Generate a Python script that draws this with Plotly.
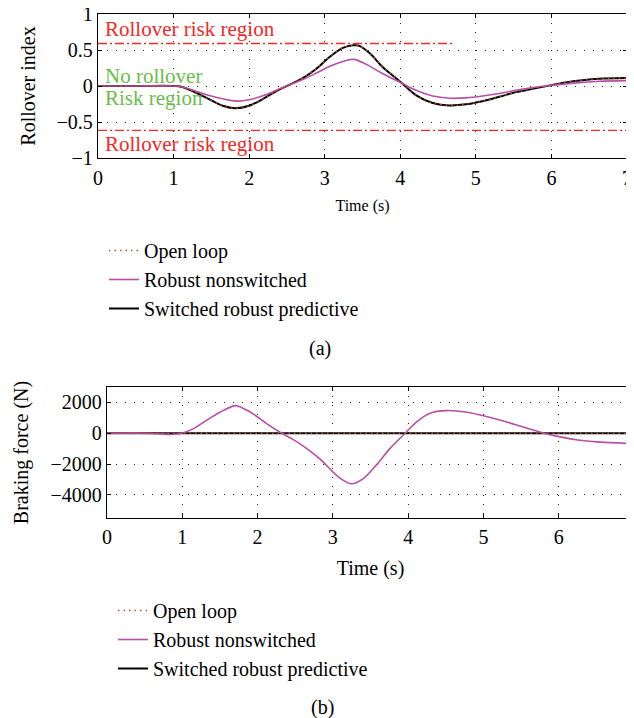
import plotly.graph_objects as go

# The page body has an 8px margin, so the figure is drawn at (8, 8) in the window.
OFF = 8
W, H = 634 - OFF, 718 - OFF
FONT = "Liberation Serif, Times New Roman, serif"

# ---------- (a) Rollover index ----------
t_a = [0, 0.5, 1.0, 1.1, 1.25, 1.5, 1.65, 1.82, 2.0, 2.2, 2.36, 2.54, 2.71, 2.89,
       3.06, 3.24, 3.38, 3.45, 3.6, 3.77, 4.0, 4.21, 4.43, 4.65, 4.87, 5.09, 5.31,
       5.53, 5.75, 5.97, 6.19, 6.41, 6.63, 7.0]
switched_a = [0, 0, 0, -0.01, -0.07, -0.2, -0.275, -0.31, -0.275, -0.17, -0.07, 0.02,
              0.11, 0.24, 0.40, 0.53, 0.565, 0.56, 0.45, 0.26, 0.06, -0.13, -0.235,
              -0.27, -0.255, -0.21, -0.15, -0.085, -0.04, 0.005, 0.05, 0.08, 0.1, 0.11]
openloop_a = [0, 0, 0, -0.01, -0.07, -0.2, -0.275, -0.31, -0.275, -0.17, -0.07, 0.02,
              0.11, 0.24, 0.40, 0.53, 0.565, 0.56, 0.45, 0.26, 0.06, -0.13, -0.235,
              -0.27, -0.255, -0.21, -0.15, -0.085, -0.04, 0.005, 0.05, 0.08, 0.1, 0.11]
t_a_robust = [0, 0.5, 1.0, 1.1, 1.25, 1.5, 1.75, 1.85, 2.0, 2.2, 2.36, 2.54, 2.71, 2.89,
              3.06, 3.24, 3.38, 3.55, 3.77, 4.0, 4.21, 4.43, 4.65, 4.87, 5.09, 5.31,
              5.53, 5.75, 5.97, 6.19, 6.41, 6.63, 7.0]
robust_a = [0, 0, 0, -0.01, -0.055, -0.14, -0.2, -0.21, -0.19, -0.13, -0.06, 0.02, 0.09,
            0.18, 0.27, 0.34, 0.37, 0.3, 0.17, 0.05, -0.06, -0.14, -0.17, -0.165, -0.14,
            -0.105, -0.06, -0.02, 0.005, 0.03, 0.05, 0.065, 0.075]
risk_upper_t = [0, 4.7]
risk_upper_v = [0.59, 0.59]
risk_lower_t = [0, 7]
risk_lower_v = [-0.615, -0.615]

# ---------- (b) Braking force ----------
t_b = [0, 0.5, 0.7, 0.85, 0.99, 1.15, 1.32, 1.5, 1.7, 1.77, 1.94, 2.12, 2.32, 2.47,
       2.65, 2.83, 3.09, 3.25, 3.40, 3.58, 3.76, 3.96, 4.11, 4.29, 4.51, 4.78, 5.04,
       5.31, 5.57, 5.79, 6.02, 6.28, 6.55, 7.0]
robust_b = [0, 0, -40, -80, 0, 300, 830, 1360, 1790, 1700, 1260, 620, 0, -400, -980,
            -1680, -2900, -3280, -2960, -2045, -980, 0, 725, 1300, 1470, 1360, 1085,
            725, 340, 20, -235, -450, -575, -660]
t_b_flat = [0, 7]
switched_b = [0, 0]
openloop_b = [0, 0]

names = ["Open loop", "Robust nonswitched", "Switched robust predictive"]
C_OPEN = "rgb(190,80,50)"
C_ROB = "rgb(184,78,168)"
C_SW = "black"
C_RED = "rgb(245,40,40)"
C_GREEN = "rgb(104,190,72)"

fig = go.Figure()

# top subplot
fig.add_trace(go.Scatter(x=risk_upper_t, y=risk_upper_v, mode="lines", showlegend=False,
                         line=dict(color=C_RED, width=1.3, dash="9px,3px,2px,3px"),
                         xaxis="x", yaxis="y", hoverinfo="skip"))
fig.add_trace(go.Scatter(x=risk_lower_t, y=risk_lower_v, mode="lines", showlegend=False,
                         line=dict(color=C_RED, width=1.3, dash="9px,3px,2px,3px"),
                         xaxis="x", yaxis="y", hoverinfo="skip"))
fig.add_trace(go.Scatter(x=t_a, y=switched_a, mode="lines", name=names[2],
                         line=dict(color=C_SW, width=2, shape="spline"),
                         xaxis="x", yaxis="y", legend="legend", legendrank=3))
fig.add_trace(go.Scatter(x=t_a_robust, y=robust_a, mode="lines", name=names[1],
                         line=dict(color=C_ROB, width=1.6, shape="spline"),
                         xaxis="x", yaxis="y", legend="legend", legendrank=2))
fig.add_trace(go.Scatter(x=t_a, y=openloop_a, mode="lines", name=names[0],
                         line=dict(color=C_OPEN, width=1.4, shape="spline", dash="1.5px,4px"),
                         xaxis="x", yaxis="y", legend="legend", legendrank=1))

# bottom subplot
fig.add_trace(go.Scatter(x=t_b_flat, y=switched_b, mode="lines", name=names[2],
                         line=dict(color=C_SW, width=2),
                         xaxis="x2", yaxis="y2", legend="legend2", legendrank=3))
fig.add_trace(go.Scatter(x=t_b, y=robust_b, mode="lines", name=names[1],
                         line=dict(color=C_ROB, width=1.6, shape="spline"),
                         xaxis="x2", yaxis="y2", legend="legend2", legendrank=2))
fig.add_trace(go.Scatter(x=t_b_flat, y=openloop_b, mode="lines", name=names[0],
                         line=dict(color=C_OPEN, width=1.6, dash="1.5px,4px"),
                         xaxis="x2", yaxis="y2", legend="legend2", legendrank=1))

def px_x(p):
    return (p - OFF) / W

def px_y(p):
    return 1 - (p - OFF) / H

axis_common = dict(showline=True, linecolor="black", linewidth=1.3, mirror="ticks",
                   ticks="inside", ticklen=4, tickcolor="black", tickwidth=1,
                   showgrid=True, gridcolor="rgb(40,40,40)", griddash="1px,8px", gridwidth=1,
                   zeroline=False, automargin=False, ticklabeloverflow="allow",
                   tickfont=dict(family=FONT, size=20, color="black"))

fig.update_layout(
    template="none",
    width=W, height=H, margin=dict(l=0, r=0, t=0, b=0, pad=0),
    paper_bgcolor="white", plot_bgcolor="white",
    font=dict(family=FONT, color="black"),
    xaxis=dict(domain=[px_x(98), px_x(627)], range=[0, 7], dtick=1, anchor="y",
               ticklabelstandoff=2,
               title=dict(text="Time (s)", font=dict(family=FONT, size=16), standoff=11),
               **axis_common),
    yaxis=dict(domain=[px_y(158), px_y(14)], range=[-1, 1], dtick=0.5, anchor="x",
               title=dict(text="Rollover index", font=dict(family=FONT, size=20), standoff=15),
               **axis_common),
    xaxis2=dict(domain=[px_x(107), 1], range=[0, 7], dtick=1, anchor="y2",
                ticklabelstandoff=1,
                title=dict(text="Time (s)", font=dict(family=FONT, size=20), standoff=13),
                **axis_common),
    yaxis2=dict(domain=[px_y(518), px_y(387)], range=[-5500, 3000],
                tickvals=[-4000, -2000, 0, 2000], anchor="x2",
                title=dict(text="Braking force (N)", font=dict(family=FONT, size=20), standoff=16),
                **axis_common),
    legend=dict(x=px_x(104), y=px_y(231), xanchor="left", yanchor="top",
                font=dict(family=FONT, size=20, color="black"), bgcolor="rgba(0,0,0,0)",
                tracegroupgap=0, traceorder="normal"),
    legend2=dict(x=px_x(113), y=px_y(591), xanchor="left", yanchor="top",
                 font=dict(family=FONT, size=20, color="black"), bgcolor="rgba(0,0,0,0)",
                 tracegroupgap=0, traceorder="normal"),
    showlegend=True,
)

ann_font = lambda c: dict(family=FONT, size=21, color=c)
fig.add_annotation(x=0.06, y=0.79, xref="x", yref="y", text="Rollover risk region",
                   showarrow=False, xanchor="left", yanchor="middle", font=ann_font(C_RED))
fig.add_annotation(x=0.06, y=0.135, xref="x", yref="y", text="No rollover",
                   showarrow=False, xanchor="left", yanchor="middle", font=ann_font(C_GREEN))
fig.add_annotation(x=0.06, y=-0.17, xref="x", yref="y", text="Risk region",
                   showarrow=False, xanchor="left", yanchor="middle", font=ann_font(C_GREEN))
fig.add_annotation(x=0.06, y=-0.8, xref="x", yref="y", text="Rollover risk region",
                   showarrow=False, xanchor="left", yanchor="middle", font=ann_font(C_RED))
fig.add_annotation(x=px_x(320), y=px_y(348), xref="paper", yref="paper", text="(a)",
                   showarrow=False, xanchor="center", yanchor="middle",
                   font=dict(family=FONT, size=20, color="black"))
fig.add_annotation(x=px_x(322), y=px_y(707), xref="paper", yref="paper", text="(b)",
                   showarrow=False, xanchor="center", yanchor="middle",
                   font=dict(family=FONT, size=20, color="black"))

fig.write_html("out.html")
